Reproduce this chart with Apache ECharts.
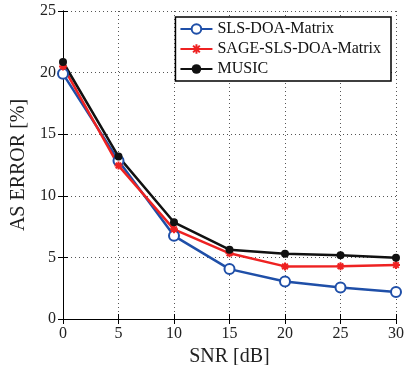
<!DOCTYPE html>
<html>
<head>
<meta charset="utf-8">
<script src="https://cdn.jsdelivr.net/npm/echarts@6/dist/echarts.min.js"></script>
<style>
  html, body { margin: 0; padding: 0; background: #fff; }
  #chart { width: 407px; height: 365px; }
</style>
</head>
<body>
<div id="chart"></div>
<script>
const snr = [0, 5, 10, 15, 20, 25, 30];
const slsDoa = [19.9, 12.85, 6.75, 4.05, 3.05, 2.55, 2.2];
const sageSlsDoa = [20.5, 12.45, 7.28, 5.33, 4.27, 4.28, 4.38];
const music = [20.86, 13.18, 7.85, 5.63, 5.3, 5.17, 4.98];

const font = "Liberation Serif";
const asterisk = "path://M5 0V10M0 5H10M1.5 1.5L8.5 8.5M8.5 1.5L1.5 8.5";

const chart = echarts.init(document.getElementById("chart"));

const makeSeries = (name, data, color, symbol, size, symbolStyle) => ({
  name,
  type: "line",
  data: snr.map((x, i) => [x, data[i]]),
  symbol,
  symbolSize: size,
  showAllSymbol: true,
  lineStyle: { color, width: 2.5 },
  itemStyle: Object.assign({ color }, symbolStyle),
  z: 3,
});

const innerTicks = { show: true, inside: true, length: 5, lineStyle: { color: "#000" } };
const dotted = { show: true, lineStyle: { color: "#555", type: [1, 3], width: 1 } };

chart.setOption({
  animation: false,
  grid: { left: 63, right: 11, top: 11, bottom: 46, outerBoundsMode: "none" },
  legend: {
    right: 16,
    top: 17,
    orient: "vertical",
    backgroundColor: "#fff",
    borderColor: "#000",
    borderWidth: 1.5,
    padding: [4, 10, 4, 4],
    itemGap: 4,
    itemWidth: 32,
    itemHeight: 12,
    textStyle: { fontFamily: font, fontSize: 16, color: "#111" },
    data: ["SLS-DOA-Matrix", "SAGE-SLS-DOA-Matrix", "MUSIC"],
  },
  xAxis: [
    {
      type: "value",
      min: 0,
      max: 30,
      interval: 5,
      name: "SNR [dB]",
      nameLocation: "middle",
      nameGap: 24,
      nameTextStyle: { fontFamily: font, fontSize: 20, color: "#222" },
      axisLine: { show: true, lineStyle: { color: "#000", width: 1 } },
      axisTick: innerTicks,
      axisLabel: { fontFamily: font, fontSize: 16, color: "#222", margin: 7 },
      splitLine: dotted,
    },
    {
      type: "value",
      position: "top",
      min: 0,
      max: 30,
      interval: 5,
      axisLine: { show: true, lineStyle: { color: "#000", width: 1 } },
      axisTick: innerTicks,
      axisLabel: { show: false },
      splitLine: { show: false },
    },
  ],
  yAxis: [
    {
      type: "value",
      min: 0,
      max: 25,
      interval: 5,
      name: "AS ERROR [%]",
      nameLocation: "middle",
      nameGap: 27,
      nameTextStyle: { fontFamily: font, fontSize: 20, color: "#222" },
      axisLine: { show: true, lineStyle: { color: "#000", width: 1 } },
      axisTick: innerTicks,
      axisLabel: { fontFamily: font, fontSize: 16, color: "#222", margin: 7 },
      splitLine: dotted,
    },
    {
      type: "value",
      position: "right",
      min: 0,
      max: 25,
      interval: 5,
      axisLine: { show: true, lineStyle: { color: "#000", width: 1 } },
      axisTick: innerTicks,
      axisLabel: { show: false },
      splitLine: { show: false },
    },
  ],
  series: [
    makeSeries("SLS-DOA-Matrix", slsDoa, "#1f4fa8", "emptyCircle", 10, { borderWidth: 2 }),
    makeSeries("SAGE-SLS-DOA-Matrix", sageSlsDoa, "#ee2222", asterisk, 8, { borderColor: "#ee2222", borderWidth: 2 }),
    makeSeries("MUSIC", music, "#111111", "circle", 8, {}),
  ],
});
</script>
</body>
</html>
